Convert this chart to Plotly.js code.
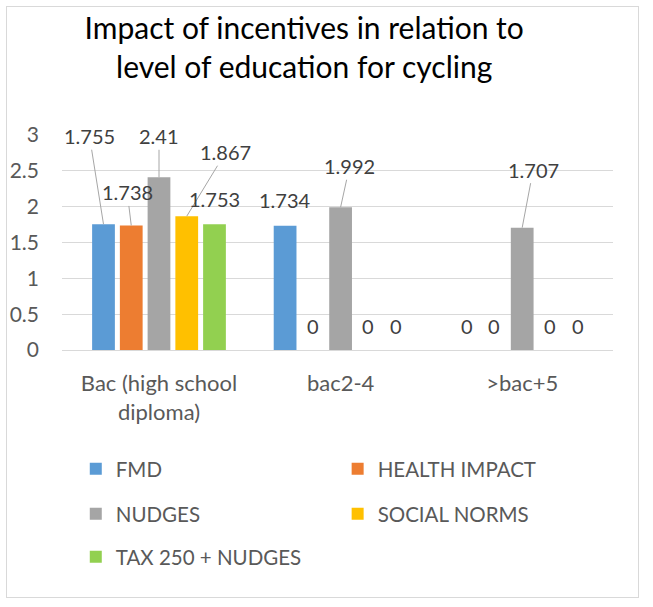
<!DOCTYPE html>
<html>
<head>
<meta charset="utf-8">
<script src="https://cdn.plot.ly/plotly-3.0.1.min.js"></script>
<style>
  html, body { margin: 0; padding: 0; background: #fff; }
  #frame { position: absolute; left: 6px; top: 6px; width: 631px; height: 590px; border: 1px solid #d9d9d9; }
  #chart { width: 631px; height: 590px; }
</style>
</head>
<body>
<div id="frame"><div id="chart"></div></div>
<script>
// ---- data ----
const categories = ["Bac (high school diploma)", "bac2-4", ">bac+5"];
const tickLabels = ["Bac (high school<br>diploma)", "bac2-4", ">bac+5"];
const seriesNames = ["FMD", "HEALTH IMPACT", "NUDGES", "SOCIAL NORMS", "TAX 250 + NUDGES"];
const fmd = [1.755, 1.734, 0];
const healthImpact = [1.738, 0, 0];
const nudges = [2.41, 1.992, 1.707];
const socialNorms = [1.867, 0, 0];
const tax250Nudges = [1.753, 0, 0];
const yTicks = [0, 0.5, 1, 1.5, 2, 2.5, 3];

// ---- styles ----
const colors = ["#5b9bd5", "#ed7d31", "#a5a5a5", "#ffc000", "#92d050"];
const seriesValues = [fmd, healthImpact, nudges, socialNorms, tax250Nudges];
// data label placement [ax, ay, leaderLine] in pixels, per series per category
const labelOffsets = [
  [[-14, -88, 1], [0, -26, 0], [0, -24, 0]],
  [[-4, -33, 1], [0, -24, 0], [0, -24, 0]],
  [[0, -41, 1], [9, -41, 1], [11, -58, 1]],
  [[39, -64, 1], [0, -24, 0], [0, -24, 0]],
  [[0, -25, 0], [0, -24, 0], [0, -24, 0]]
];
const FONT = "Lato, 'Liberation Sans', sans-serif";
const bargap = 0.236;
const slot = (1 - bargap) / seriesNames.length;

const legendPos = [
  {x: 0.109, y: 0.217}, {x: 0.524, y: 0.217},
  {x: 0.109, y: 0.141}, {x: 0.524, y: 0.141},
  {x: 0.109, y: 0.068}
];

const traces = seriesNames.map((name, i) => ({
  type: "bar",
  name: name,
  x: categories,
  y: seriesValues[i],
  marker: {color: colors[i]},
  legend: i === 0 ? "legend" : "legend" + (i + 1),
  hoverinfo: "skip"
}));

const annotations = [];
seriesValues.forEach((vals, i) => {
  vals.forEach((v, j) => {
    const off = labelOffsets[i][j];
    annotations.push({
      x: j + (i - (seriesNames.length - 1) / 2) * slot,
      y: v,
      xref: "x", yref: "y",
      text: String(v),
      showarrow: true,
      arrowhead: 0,
      arrowwidth: 1,
      arrowcolor: off[2] ? "#a6a6a6" : "rgba(0,0,0,0)",
      standoff: 0,
      ax: off[0], ay: off[1],
      font: {family: FONT, size: 20, color: "#404040"}
    });
  });
});

const layout = {
  width: 631, height: 590,
  paper_bgcolor: "#ffffff", plot_bgcolor: "#ffffff",
  margin: {l: 55, r: 25, t: 128, b: 247},
  title: {
    text: "Impact of incentives in relation to<br>level of education for cycling",
    font: {family: FONT, size: 30, color: "#000000"},
    x: 0.471, xref: "container", xanchor: "center",
    y: 0.946, yref: "container", yanchor: "middle"
  },
  barmode: "group",
  bargap: bargap,
  bargroupgap: 0.18,
  xaxis: {
    type: "category",
    tickvals: categories,
    ticktext: tickLabels,
    tickfont: {family: FONT, size: 22, color: "#595959"},
    showgrid: false,
    showline: false,
    ticks: "",
    ticklabelstandoff: 18,
    fixedrange: true
  },
  yaxis: {
    range: [0, 3],
    tickvals: yTicks,
    ticktext: yTicks.map(String),
    tickfont: {family: FONT, size: 21, color: "#595959"},
    showgrid: true, gridcolor: "#d9d9d9", gridwidth: 1,
    zeroline: true, zerolinecolor: "#d9d9d9", zerolinewidth: 1,
    showline: false, ticks: "",
    ticklabelstandoff: 22,
    fixedrange: true
  },
  annotations: annotations,
  showlegend: true
};
legendPos.forEach((p, i) => {
  layout[i === 0 ? "legend" : "legend" + (i + 1)] = {
    x: p.x, y: p.y, xref: "container", yref: "container",
    xanchor: "left", yanchor: "middle",
    orientation: "h",
    bgcolor: "rgba(0,0,0,0)",
    font: {family: FONT, size: 20.5, color: "#595959"}
  };
});

Plotly.newPlot("chart", traces, layout, {displayModeBar: false, staticPlot: true});
</script>
</body>
</html>
